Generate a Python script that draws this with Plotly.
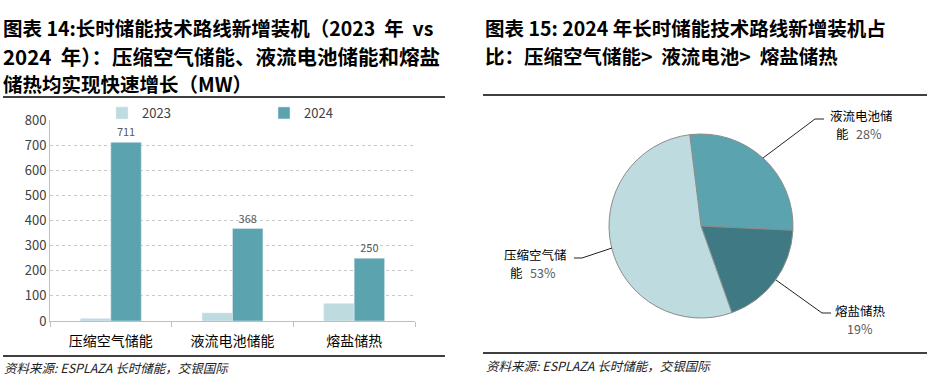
import plotly.graph_objects as go

# ---------------- data ----------------
categories = ["压缩空气储能", "液流电池储能", "熔盐储热"]
series_names = ["2023", "2024"]
v2023 = [10, 32, 70]
v2024 = [711, 368, 250]
y_ticks = [0, 100, 200, 300, 400, 500, 600, 700, 800]

pie_order = [1, 2, 0]  # liquid, molten salt, compressed air (clockwise from top)
pie_label_line1 = ["压缩空气储", "液流电池储", "熔盐储热"]
pie_label_line2 = ["能", "能", ""]

W, H = 927, 382
def px(x): return x / W
def py(y): return 1 - y / H

C_LIGHT = "#BEDBDF"
C_MID = "#5BA3AF"
C_DARK = "#3F7A84"
FONT = "Noto Sans CJK SC"

fig = go.Figure()

fig.add_trace(go.Bar(
    x=categories, y=v2023, name=series_names[0], marker_color=C_LIGHT,
    xaxis="x", yaxis="y",
))
fig.add_trace(go.Bar(
    x=categories, y=v2024, name=series_names[1], marker_color=C_MID,
    text=[str(v) for v in v2024], textposition="outside",
    textfont=dict(size=11, color="#595959", family=FONT), cliponaxis=False,
    xaxis="x", yaxis="y",
))

total = sum(v2024)
fig.add_trace(go.Pie(
    labels=[categories[i] for i in pie_order],
    values=[v2024[i] for i in pie_order],
    marker=dict(colors=[C_MID, C_DARK, C_LIGHT], line=dict(color="#8C8C8C", width=1)),
    sort=False, direction="clockwise", rotation=-7,
    textinfo="none", hoverinfo="label+percent", showlegend=False,
    domain=dict(x=[px(609), px(793)], y=[py(318), py(134)]),
))

layout = dict(
    width=W, height=H, margin=dict(l=0, r=0, t=0, b=0, pad=0, autoexpand=False),
    paper_bgcolor="white", plot_bgcolor="white",
    font=dict(family=FONT, color="#000"),
    barmode="group", bargap=0.5, bargroupgap=0,
    xaxis=dict(domain=[px(50), px(415)], showline=True, linecolor="#BFBFBF", linewidth=1,
               ticks="outside", tickson="boundaries", ticklen=5, tickcolor="#BFBFBF",
               tickfont=dict(size=14, color="#000", family=FONT), anchor="y",
               ticklabelstandoff=7, automargin=False),
    yaxis=dict(domain=[py(321), py(120)], range=[0, 800], tickvals=y_ticks,
               showline=True, linecolor="#BFBFBF", linewidth=1,
               showgrid=True, gridcolor="#C8C8C8", griddash="dot", gridwidth=1,
               tickfont=dict(size=13, color="#404040", family=FONT), ticks="", anchor="x",
               zeroline=False, automargin=False),
    legend=dict(orientation="h", x=px(102), y=py(113), yanchor="middle", xanchor="left",
                entrywidth=117, entrywidthmode="pixels", font=dict(size=13, color="#404040"),
                itemwidth=30, bgcolor="rgba(0,0,0,0)"),
)
fig.update_layout(**layout)

ann = []
def title_font(size):
    return dict(family=FONT, size=size, color="#000", weight="bold")
left_title = ["图表 14:长时储能技术路线新增装机（2023  年  vs",
              "2024  年）：压缩空气储能、液流电池储能和熔盐",
              "储热均实现快速增长（MW）"]
for t, yy, sz in zip(left_title, [28, 56, 83], [19.5, 20.5, 19.5]):
    ann.append(dict(text=t, x=px(1), y=py(yy), xref="paper", yref="paper",
                    xanchor="left", yanchor="middle", showarrow=False, font=title_font(sz)))
right_title = ["图表 15: 2024 年长时储能技术路线新增装机占",
               "比：压缩空气储能>  液流电池>  熔盐储热"]
for t, yy in zip(right_title, [28, 56]):
    ann.append(dict(text=t, x=px(483), y=py(yy), xref="paper", yref="paper",
                    xanchor="left", yanchor="middle", showarrow=False, font=title_font(19.5)))

src = "资料来源: ESPLAZA 长时储能，交银国际"
ann.append(dict(text="<i>" + src + "</i>", x=px(2), y=py(367), xref="paper", yref="paper",
                xanchor="left", yanchor="middle", showarrow=False,
                font=dict(size=12.5, color="#222", family=FONT)))
ann.append(dict(text="<i>" + src + "</i>", x=px(484), y=py(365), xref="paper", yref="paper",
                xanchor="left", yanchor="middle", showarrow=False,
                font=dict(size=12.5, color="#222", family=FONT)))

# pie labels (name line, then name tail + percentage)
pcts = [round(v / total * 100) for v in v2024]
label_pos = {0: (535, 254, 272), 1: (861, 115, 133), 2: (860, 310, 328)}
lab_font = dict(size=12.5, color="#000", family=FONT)
pct_font = dict(size=12.5, color="#595959", family=FONT)
for i in range(3):
    cx, y1, y2 = label_pos[i]
    ann.append(dict(text=pie_label_line1[i], x=px(cx), y=py(y1), xref="paper", yref="paper",
                    xanchor="center", yanchor="middle", showarrow=False, font=lab_font))
    pct_txt = "%d%%" % pcts[i]
    if pie_label_line2[i]:
        ann.append(dict(text=pie_label_line2[i], x=px(cx - 10), y=py(y2), xref="paper",
                        yref="paper", xanchor="right", yanchor="middle", showarrow=False,
                        font=lab_font))
        ann.append(dict(text=pct_txt, x=px(cx - 7), y=py(y2), xref="paper", yref="paper",
                        xanchor="left", yanchor="middle", showarrow=False, font=pct_font))
    else:
        ann.append(dict(text=pct_txt, x=px(cx), y=py(y2), xref="paper", yref="paper",
                        xanchor="center", yanchor="middle", showarrow=False, font=pct_font))
fig.update_layout(annotations=ann)

shapes = []
def line(x0, y0, x1, y1, color="#000", w=1.5):
    shapes.append(dict(type="line", xref="paper", yref="paper",
                       x0=px(x0), y0=py(y0), x1=px(x1), y1=py(y1),
                       line=dict(color=color, width=w)))
line(3, 97, 445, 97)
line(3, 356, 445, 356)
line(483, 95, 927, 95)
line(483, 353, 927, 353)
# leader lines
for pts in [[(763, 158), (815, 119), (824, 119)],
            [(776, 280), (822, 313), (831, 313)],
            [(612, 248), (582, 258), (574, 258)]]:
    for (a, b), (c, d) in zip(pts[:-1], pts[1:]):
        line(a, b, c, d, color="#222", w=1)
fig.update_layout(shapes=shapes)

fig.write_html("out.html", config={"displayModeBar": False},
               post_script="document.body.style.margin='0';")
